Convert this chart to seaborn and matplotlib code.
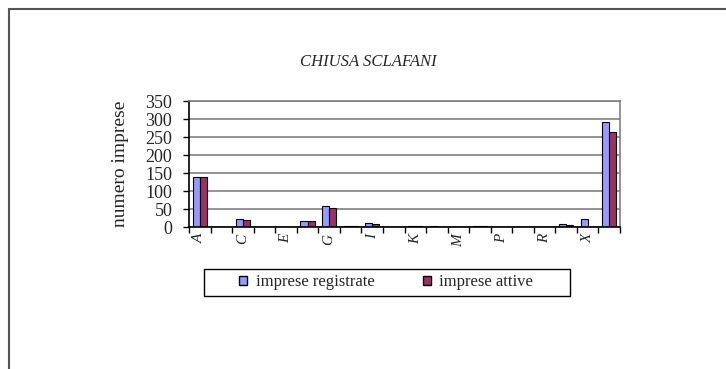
import matplotlib
matplotlib.use("Agg")
import matplotlib.pyplot as plt
from matplotlib.lines import Line2D
from matplotlib.patches import Patch, Rectangle
import seaborn as sns
import pandas as pd
import numpy as np

categories = ["A", "B", "C", "D", "E", "F", "G", "H", "I", "J",
              "K", "L", "M", "N", "P", "Q", "R", "S", "X", "Totale"]
tick_labels = ["A", "", "C", "", "E", "", "G", "", "I", "",
               "K", "", "M", "", "P", "", "R", "", "X", ""]
registrate = [140, 1, 21, 0, 0, 16, 57, 3, 10, 1, 3, 2, 1, 3, 0, 1, 1, 7, 21, 291]
attive = [140, 1, 20, 0, 0, 16, 54, 3, 9, 1, 2, 1, 1, 2, 0, 1, 1, 6, 0, 263]
series_names = ["imprese registrate", "imprese attive"]
colors = ["#9999FF", "#993366"]

df = pd.DataFrame({
    "cat": categories * 2,
    "val": registrate + attive,
    "serie": [series_names[0]] * len(categories) + [series_names[1]] * len(categories),
})

sns.set_theme(style="white")
plt.rcParams["font.family"] = ["Liberation Serif", "DejaVu Serif"]

fig = plt.figure(figsize=(7.26, 3.69), dpi=100)
fig.patch.set_facecolor("white")
ax = fig.add_axes([189 / 726, 1 - 227 / 369, 431 / 726, 126 / 369])

sns.barplot(data=df, x="cat", y="val", hue="serie", order=categories,
            hue_order=series_names, palette=colors, width=0.66, gap=0,
            edgecolor="black", linewidth=0.8, saturation=1, ax=ax,
            legend=False)

ax.set_xlim(-0.5, len(categories) - 0.5)
ax.set_ylim(0, 350)
ax.set_yticks(np.arange(0, 351, 50))
ax.yaxis.grid(True, color="#808080", linewidth=1.2)
ax.set_axisbelow(True)
ax.tick_params(axis="y", direction="out", length=4, width=1, color="black",
               labelsize=13, pad=8, left=True)

ax.set_xticks(np.arange(len(categories)))
ax.set_xticklabels(tick_labels, rotation=90, fontstyle="italic", fontsize=11)
ax.tick_params(axis="x", which="major", length=0, pad=5, bottom=True)
ax.set_xticks(np.arange(len(categories) + 1) - 0.5, minor=True)
ax.tick_params(axis="x", which="minor", direction="out", length=4, width=1,
               color="black", bottom=True)

ax.set_xlabel("")
ax.set_ylabel("numero imprese", fontsize=14, labelpad=12)

for s in ["left", "bottom"]:
    ax.spines[s].set_color("black")
    ax.spines[s].set_linewidth(1.2)
for s in ["right", "top"]:
    ax.spines[s].set_color("#808080")
    ax.spines[s].set_linewidth(1.2)

fig.text(368 / 726, 1 - 62 / 369, "CHIUSA SCLAFANI", ha="center", va="center",
         fontsize=12, fontstyle="italic")

handles = [Patch(facecolor=c, edgecolor="black", linewidth=1.0) for c in colors]
leg = fig.legend(handles, series_names, loc="center", ncol=2,
                 bbox_to_anchor=(386 / 726, 1 - 282.5 / 369), frameon=False,
                 fontsize=12, handlelength=0.5, handleheight=0.5,
                 handletextpad=0.5, columnspacing=2.9, borderpad=0,
                 borderaxespad=0)

fig.add_artist(Rectangle((204 / 726, 1 - 296 / 369), 366 / 726, 27 / 369,
                         transform=fig.transFigure, facecolor="none",
                         edgecolor="black", linewidth=1.0))

fig.add_artist(Line2D([8.5 / 726, 8.5 / 726], [0, 1 - 8.5 / 369],
                      transform=fig.transFigure, color="#555555", linewidth=1.5))
fig.add_artist(Line2D([8.5 / 726, 1], [1 - 8.5 / 369, 1 - 8.5 / 369],
                      transform=fig.transFigure, color="#555555", linewidth=1.5))

fig.savefig("out.png", dpi=100, facecolor="white")
